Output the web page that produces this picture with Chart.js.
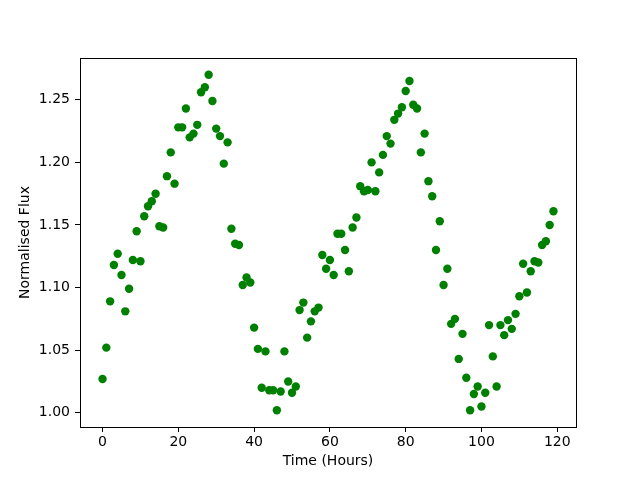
<!DOCTYPE html>
<html>
<head>
<meta charset="utf-8">
<script src="https://cdn.jsdelivr.net/npm/chart.js@4/dist/chart.umd.min.js"></script>
<style>
  html, body { margin: 0; padding: 0; background: #fff; }
  canvas { display: block; }
</style>
</head>
<body>
<canvas id="canvas_flux" width="640" height="480"></canvas>
<script>
// time in hours, one reading per hour
const hours = [
  0,1,2,3,4,5,6,7,8,9,10,11,12,13,14,15,16,17,18,19,
  20,21,22,23,24,25,26,27,28,29,30,31,32,33,34,35,36,37,38,39,
  40,41,42,43,44,45,46,47,48,49,50,51,52,53,54,55,56,57,58,59,
  60,61,62,63,64,65,66,67,68,69,70,71,72,73,74,75,76,77,78,79,
  80,81,82,83,84,85,86,87,88,89,90,91,92,93,94,95,96,97,98,99,
  100,101,102,103,104,105,106,107,108,109,110,111,112,113,114,115,116,117,118,119
];
const flux = [
  1.027,1.052,1.089,1.118,1.127,1.110,1.081,1.099,1.122,1.145,
  1.121,1.157,1.165,1.169,1.175,1.149,1.148,1.189,1.208,1.183,
  1.228,1.228,1.243,1.220,1.223,1.230,1.256,1.260,1.270,1.249,
  1.227,1.221,1.199,1.216,1.147,1.135,1.134,1.102,1.108,1.104,
  1.068,1.051,1.020,1.049,1.018,1.018,1.002,1.017,1.049,1.025,
  1.016,1.021,1.082,1.088,1.060,1.073,1.081,1.084,1.126,1.115,
  1.122,1.110,1.143,1.143,1.130,1.113,1.148,1.156,1.181,1.177,
  1.178,1.200,1.177,1.192,1.206,1.221,1.215,1.234,1.239,1.244,
  1.257,1.265,1.246,1.243,1.208,1.223,1.185,1.173,1.130,1.153,
  1.102,1.115,1.071,1.075,1.043,1.063,1.028,1.002,1.015,1.021,
  1.005,1.016,1.070,1.045,1.021,1.070,1.062,1.074,1.067,1.079,
  1.093,1.119,1.096,1.113,1.121,1.120,1.134,1.137,1.150,1.161
];
const xTicks = [0, 20, 40, 60, 80, 100, 120];
const yTicks = [1.00, 1.05, 1.10, 1.15, 1.20, 1.25];

const FONT = { family: 'DejaVu Sans', size: 14 };

// draw the full box around the plot area (matplotlib style spines)
const frame = {
  id: 'frame',
  afterDraw(chart) {
    const {ctx, chartArea} = chart;
    ctx.save();
    ctx.strokeStyle = '#000';
    ctx.lineWidth = 1;
    ctx.strokeRect(Math.round(chartArea.left) + 0.5, Math.round(chartArea.top) + 0.5,
      Math.round(chartArea.right - chartArea.left), Math.round(chartArea.bottom - chartArea.top));
    ctx.restore();
  }
};

const config = {
  type: 'scatter',
  data: {
    datasets: [{
      data: hours.map((h, i) => ({x: h, y: flux[i]})),
      backgroundColor: '#008000',
      borderColor: '#008000',
      borderWidth: 0,
      pointRadius: 4.2,
      pointHoverRadius: 4.2
    }]
  },
  options: {
    responsive: false,
    animation: false,
    layout: { padding: { top: 58, right: 64, left: 0, bottom: 0 } },
    plugins: {
      legend: { display: false },
      tooltip: { enabled: false }
    },
    scales: {
      x: {
        type: 'linear',
        min: -5.95,
        max: 124.95,
        afterFit: (scale) => { scale.height = 53; },
        afterBuildTicks: (scale) => { scale.ticks = xTicks.map(v => ({value: v})); },
        grid: { drawOnChartArea: false, drawTicks: true, tickLength: 5, tickColor: '#000' },
        border: { display: false },
        ticks: { color: '#000', font: FONT, padding: 2, maxRotation: 0 },
        title: { display: true, text: 'Time (Hours)', color: '#000', font: FONT, padding: { top: 0, bottom: 10 } }
      },
      y: {
        type: 'linear',
        min: 0.9886,
        max: 1.2834,
        afterFit: (scale) => { scale.width = 80; },
        afterBuildTicks: (scale) => { scale.ticks = yTicks.map(v => ({value: v})); },
        grid: { drawOnChartArea: false, drawTicks: true, tickLength: 5, tickColor: '#000' },
        border: { display: false },
        ticks: { color: '#000', font: FONT, padding: 5, callback: (v) => v.toFixed(2) },
        title: { display: true, text: 'Normalised Flux', color: '#000', font: FONT, padding: { top: 17, bottom: 0 } }
      }
    }
  },
  plugins: [frame]
};

window.chart = new Chart(document.getElementById('canvas_flux'), config);
</script>
</body>
</html>
